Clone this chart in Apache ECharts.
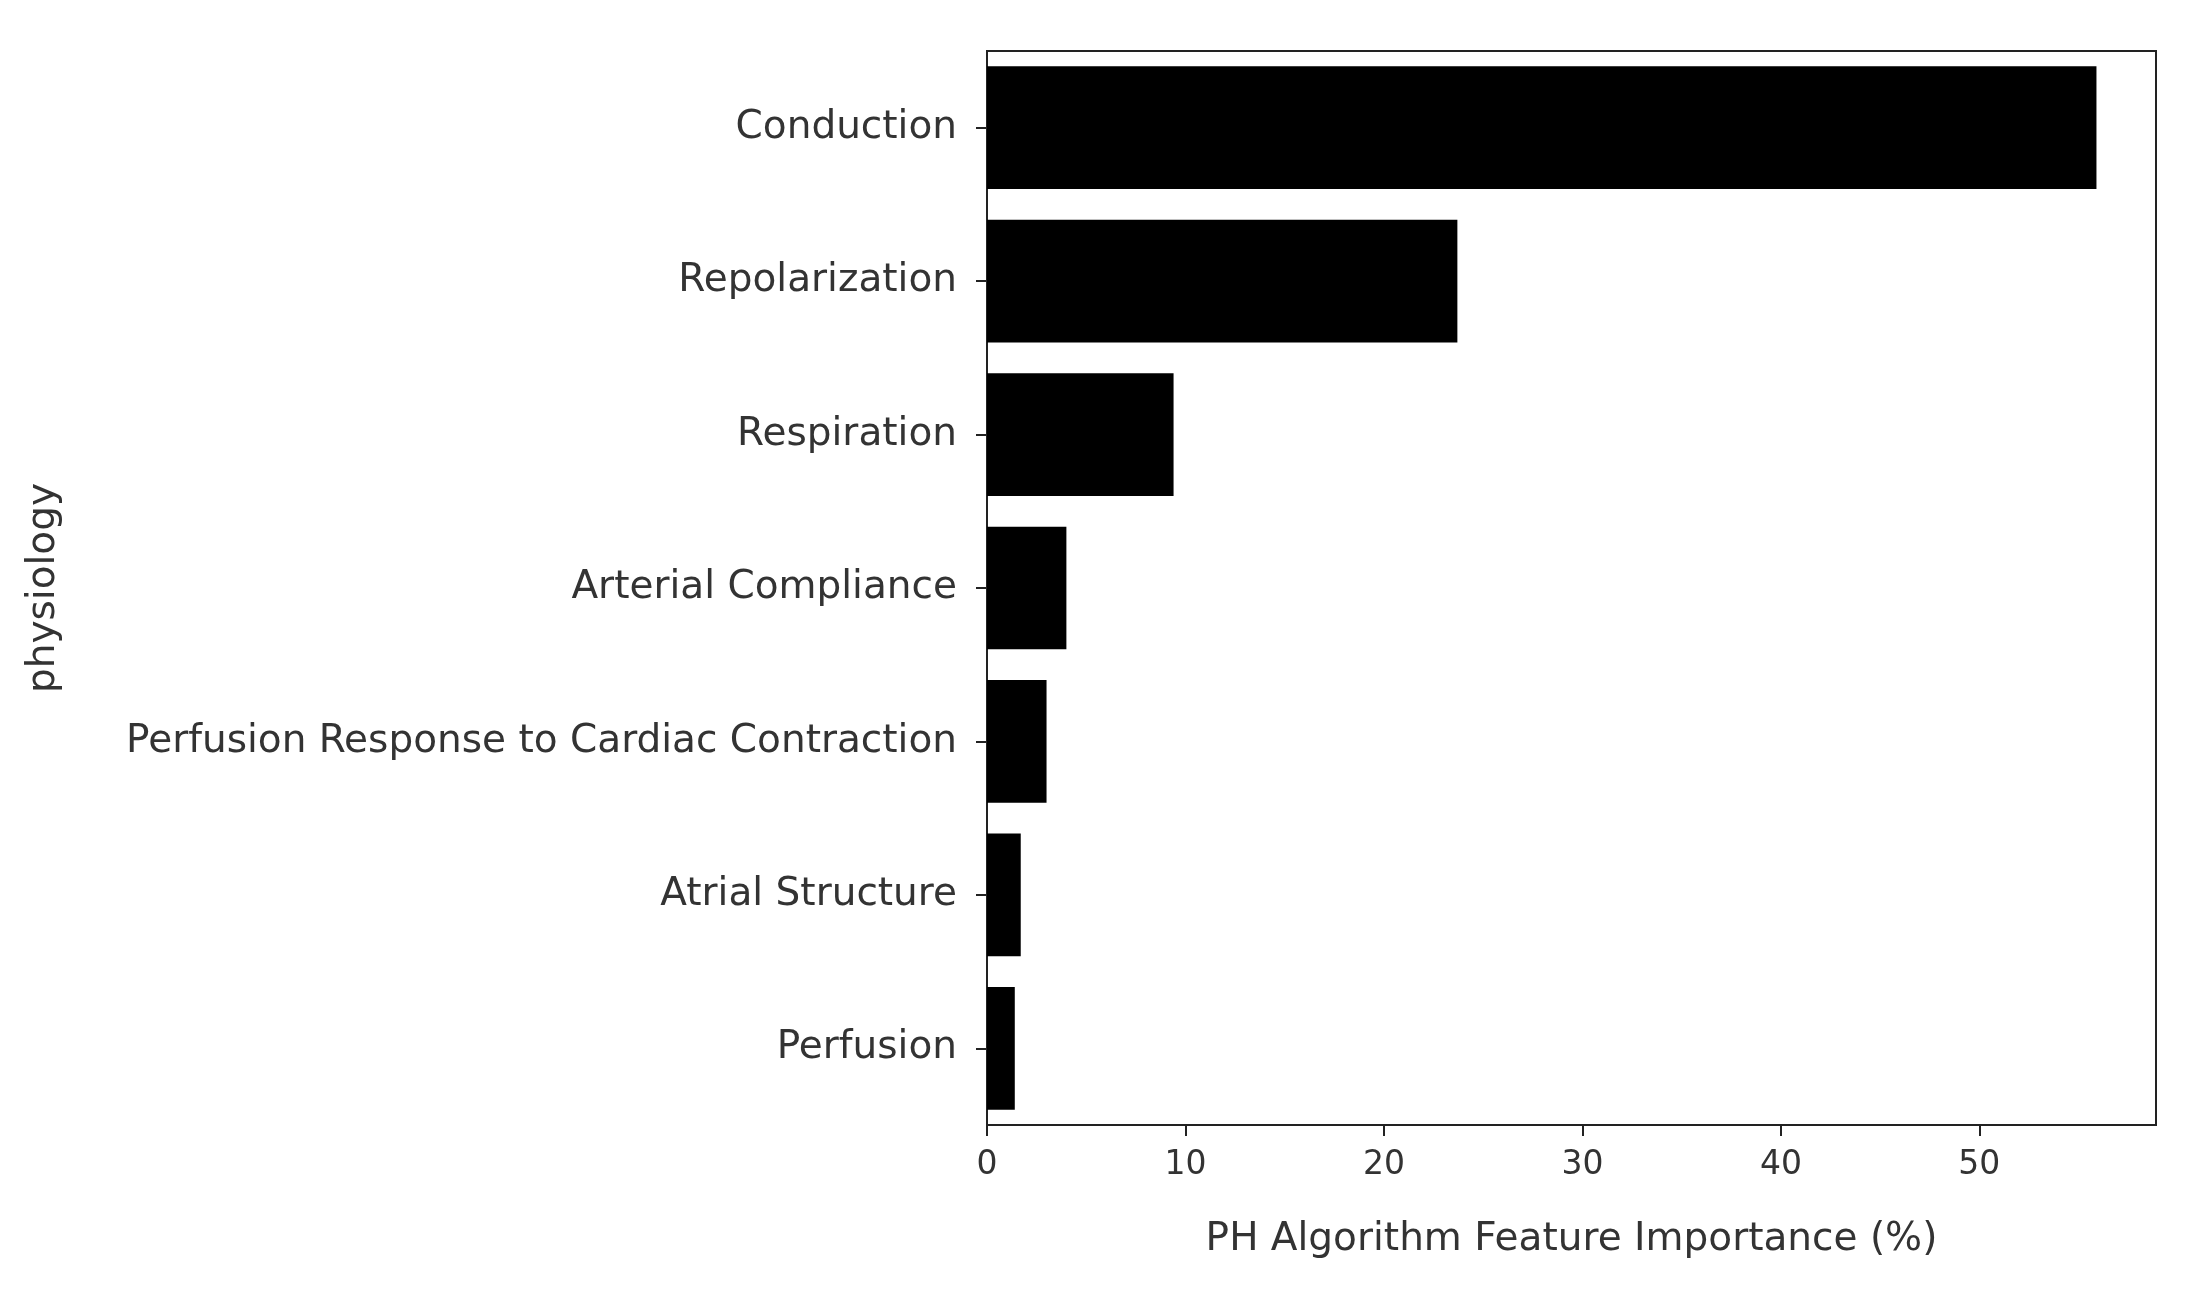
<!DOCTYPE html>
<html><head><meta charset="utf-8">
<script src="https://cdn.jsdelivr.net/npm/echarts@6/dist/echarts.min.js"></script>
<style>html,body{margin:0;background:#fff}#c{width:2197px;height:1304px}</style>
</head><body><div id="c"></div>
<script>
const categories = ["Conduction","Repolarization","Respiration","Arterial Compliance","Perfusion Response to Cardiac Contraction","Atrial Structure","Perfusion"];
const values = [55.9, 23.7, 9.4, 4.0, 3.0, 1.7, 1.4];
const xTicks = [0,10,20,30,40,50];
const font = "DejaVu Sans";
const L = 987, R = 41, T = 51, B = 179;
const chart = echarts.init(document.getElementById('c'));
chart.setOption({
  animation:false,
  grid:{left:L,right:R,top:T,bottom:B},
  xAxis:{type:'value',min:0,max:58.9,interval:10,
    name:'PH Algorithm Feature Importance (%)',nameLocation:'middle',nameGap:95,
    nameTextStyle:{fontFamily:font,fontSize:39,color:'#333'},
    axisLine:{show:true,lineStyle:{color:'#222',width:2}},
    axisTick:{show:true,length:11,lineStyle:{color:'#222',width:2}},
    splitLine:{show:false},
    axisLabel:{fontFamily:font,fontSize:33,color:'#333',margin:24,showMaxLabel:false,
      formatter:v=>xTicks.includes(v)?String(v):''}},
  yAxis:{type:'category',data:categories,inverse:true,
    name:'physiology',nameLocation:'middle',nameGap:924,nameRotate:90,
    nameTextStyle:{fontFamily:font,fontSize:39,color:'#333'},
    axisLine:{show:true,lineStyle:{color:'#222',width:2}},
    axisTick:{show:true,alignWithLabel:true,length:11,lineStyle:{color:'#222',width:2}},
    axisLabel:{fontFamily:font,fontSize:39,color:'#333',margin:30}},
  series:[{type:'bar',data:values,barCategoryGap:'20%',itemStyle:{color:'#000'}}],
  graphic:[{type:'rect',shape:{x:L,y:T,width:2197-L-R,height:1304-T-B},style:{fill:'none',stroke:'#222',lineWidth:2},silent:true}]
});
</script></body></html>
